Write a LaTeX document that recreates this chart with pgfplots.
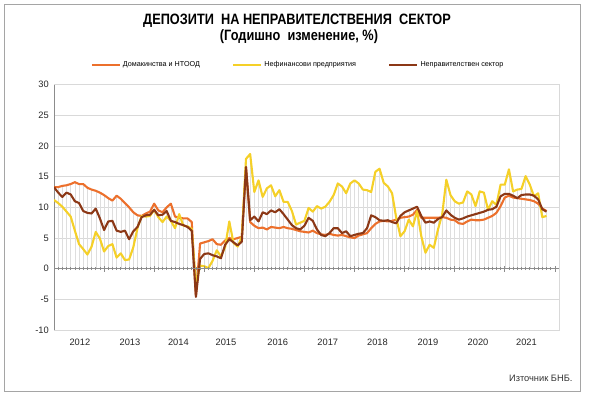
\documentclass[border=0pt]{standalone}
\usepackage{fontspec}
\setmainfont{Liberation Sans}
\newfontfamily\titlefont[FakeStretch=0.85]{Liberation Sans}
\usepackage{pgfplots}
\usepackage{pgfplotstable}
\pgfplotsset{compat=1.18}
\definecolor{hh}{RGB}{236,112,44}
\definecolor{nfc}{RGB}{245,208,40}
\definecolor{ngs}{RGB}{140,56,22}
\definecolor{frm}{RGB}{165,165,165}
\pgfplotstableread{
m hh nfc ngs
0 13.3 11.2 13.3
1 13.3 10.7 12.4
2 13.5 10.1 11.7
3 13.6 9.3 12.4
4 13.8 8.5 12.1
5 14.1 6.2 11.0
6 13.8 4.0 10.7
7 13.8 3.2 9.4
8 13.2 2.3 9.1
9 12.9 3.6 9.0
10 12.7 6.0 9.8
11 12.4 4.9 8.2
12 12.0 2.8 6.3
13 11.5 3.7 7.7
14 11.1 4.0 7.8
15 11.9 1.8 6.2
16 11.4 2.5 6.0
17 10.7 1.4 6.2
18 10.0 1.5 4.8
19 9.2 3.5 6.1
20 8.7 6.6 6.8
21 8.6 8.6 8.4
22 9.0 8.5 8.7
23 9.3 8.6 8.8
24 10.6 9.6 9.6
25 9.5 8.4 8.7
26 9.2 7.6 8.8
27 10.0 8.5 9.4
28 10.6 7.8 7.8
29 8.5 6.6 7.6
30 8.3 8.9 7.3
31 8.2 7.0 7.1
32 8.2 6.9 6.8
33 7.6 6.5 6.2
34 -4.4 -2.5 -4.6
35 4.1 0.5 1.6
36 4.3 0.4 2.4
37 4.5 0.1 2.5
38 4.8 1.3 2.2
39 4.0 3.0 2.0
40 3.9 2.0 1.7
41 4.6 3.5 3.9
42 5.0 7.7 4.8
43 4.8 4.2 4.3
44 5.0 3.6 3.8
45 5.2 5.2 4.4
46 16.6 17.9 16.6
47 7.6 18.7 7.9
48 7.0 12.5 8.5
49 6.6 14.4 7.7
50 6.7 11.7 9.2
51 6.4 13.1 8.9
52 6.8 13.6 9.5
53 6.7 11.8 9.2
54 6.6 12.8 9.7
55 6.8 10.9 8.9
56 6.6 10.9 8.0
57 6.5 9.4 7.1
58 6.3 7.2 6.6
59 6.1 7.5 6.4
60 6.0 7.8 7.0
61 5.9 9.9 8.3
62 6.2 9.3 7.8
63 5.8 10.2 6.4
64 5.6 9.8 5.5
65 5.5 10.1 5.3
66 5.7 10.9 5.8
67 5.5 12.0 6.6
68 5.4 13.9 6.6
69 5.5 13.4 5.8
70 5.3 12.3 6.1
71 5.1 13.9 5.3
72 5.0 14.4 5.5
73 5.4 13.9 5.7
74 5.6 12.9 5.8
75 5.8 12.8 6.6
76 6.6 12.5 8.7
77 7.3 15.8 8.4
78 7.7 16.3 7.9
79 7.8 14.0 7.8
80 7.7 13.4 7.9
81 7.8 12.3 7.6
82 8.0 8.3 7.4
83 8.3 5.3 8.6
84 8.4 6.1 9.2
85 8.5 8.0 9.5
86 8.8 6.9 9.8
87 9.6 9.4 10.1
88 8.3 5.3 8.6
89 8.3 2.6 7.5
90 8.3 3.9 7.7
91 8.3 3.4 7.5
92 8.3 6.4 8.1
93 8.4 8.8 8.4
94 8.3 14.5 9.5
95 8.0 12.0 8.8
96 7.9 11.0 8.3
97 7.4 10.6 8.0
98 7.3 10.8 8.2
99 7.7 12.6 8.5
100 8.0 12.1 8.7
101 7.9 10.2 8.9
102 7.9 12.6 9.1
103 8.0 12.4 9.3
104 8.3 9.6 9.6
105 8.6 11.0 9.7
106 9.1 10.4 10.1
107 10.2 13.7 11.8
108 11.6 13.7 12.2
109 11.9 16.2 12.2
110 11.6 12.6 11.9
111 11.5 12.9 11.5
112 11.4 13.0 12.0
113 11.3 15.1 12.1
114 11.2 13.7 12.1
115 11.0 11.8 11.9
116 10.6 12.3 11.3
117 9.8 8.4 9.7
118 9.4 8.6 9.3
}\datatable
\begin{document}
\begin{tikzpicture}[x=1bp,y=1bp]
\useasboundingbox (0,0) rectangle (591,395);
\draw[frm, line width=1bp] (4.5,3.5) rectangle (580.5,390.5);
\node[anchor=base, font=\titlefont\bfseries\fontsize{15bp}{18bp}\selectfont] at (297,371) {ДЕПОЗИТИ\ \ НА НЕПРАВИТЕЛСТВЕНИЯ\ \ СЕКТОР};
\node[anchor=base, font=\titlefont\bfseries\fontsize{15bp}{18bp}\selectfont] at (299,354.5) {(Годишно\ \ изменение, \%)};
\node[anchor=base east, font=\fontsize{9.3bp}{11bp}\selectfont, text=black!80] at (576,13.5) {Източник БНБ.};
\begin{axis}[
  at={(54bp,65bp)}, anchor=south west, scale only axis,
  width=505bp, height=245.3bp,
  xmin=0, xmax=121, ymin=-10, ymax=30,
  ytick={-10,-5,...,30},
  xtick={6.2,18.2,29.8,41.2,53.6,65.6,77.5,89.6,101.6,113.2},
  xticklabels={2012,2013,2014,2015,2016,2017,2018,2019,2020,2021},
  major tick length=0pt,
  ymajorgrids, grid style={color=black!15, line width=0.7bp},
  axis line style={draw=black!15, line width=0.7bp},
  /pgf/number format/assume math mode=true,
  tick label style={font=\fontsize{9.3bp}{11bp}\selectfont, text=black!85},
  yticklabel style={anchor=east, inner sep=0pt, xshift=-5bp},
  xticklabel style={anchor=north, inner sep=0pt, yshift=-9bp},
  legend style={at={(0.483,1.08)}, anchor=center, draw=none, fill=none,
    legend columns=3, font=\fontsize{7.2bp}{9bp}\selectfont,
    /tikz/every even column/.append style={column sep=30bp},
    cells={anchor=west}},
  legend image code/.code={\draw[#1, line width=2.5bp] (0bp,0bp) -- (28bp,0bp);},
]
\addplot[ycomb, black!13, line width=0.45bp, forget plot] table[x=m, y=nfc] {\datatable};
\addplot[ycomb, black!13, line width=0.45bp, forget plot] table[x=m, y=hh] {\datatable};
\addplot[ycomb, black!13, line width=0.45bp, forget plot] table[x=m, y=ngs] {\datatable};
\draw[black!45, line width=0.8bp] (axis cs:0,-10) -- (axis cs:0,30);
\addplot[hh, line width=2.1bp, line join=round] table[x=m, y=hh] {\datatable};
\addlegendentry{Домакинства и НТООД}
\addplot[nfc, line width=2.1bp, line join=round] table[x=m, y=nfc] {\datatable};
\addlegendentry{Нефинансови предприятия}
\addplot[ngs, line width=2.1bp, line join=round] table[x=m, y=ngs] {\datatable};
\addlegendentry{Неправителствен сектор}
\end{axis}
\begin{axis}[
  at={(54bp,65bp)}, anchor=south west, scale only axis,
  width=505bp, height=245.3bp,
  xmin=0, xmax=121, ymin=-10, ymax=30,
  axis x line=middle, axis y line=none,
  x axis line style={-, black!45, line width=0.8bp},
  xtick={0,12,...,120}, xticklabels={},
  minor x tick num=11,
  major tick length=6bp, minor tick length=3bp,
  tick style={black!45, line width=0.6bp},
]
\end{axis}
\end{tikzpicture}
\end{document}
